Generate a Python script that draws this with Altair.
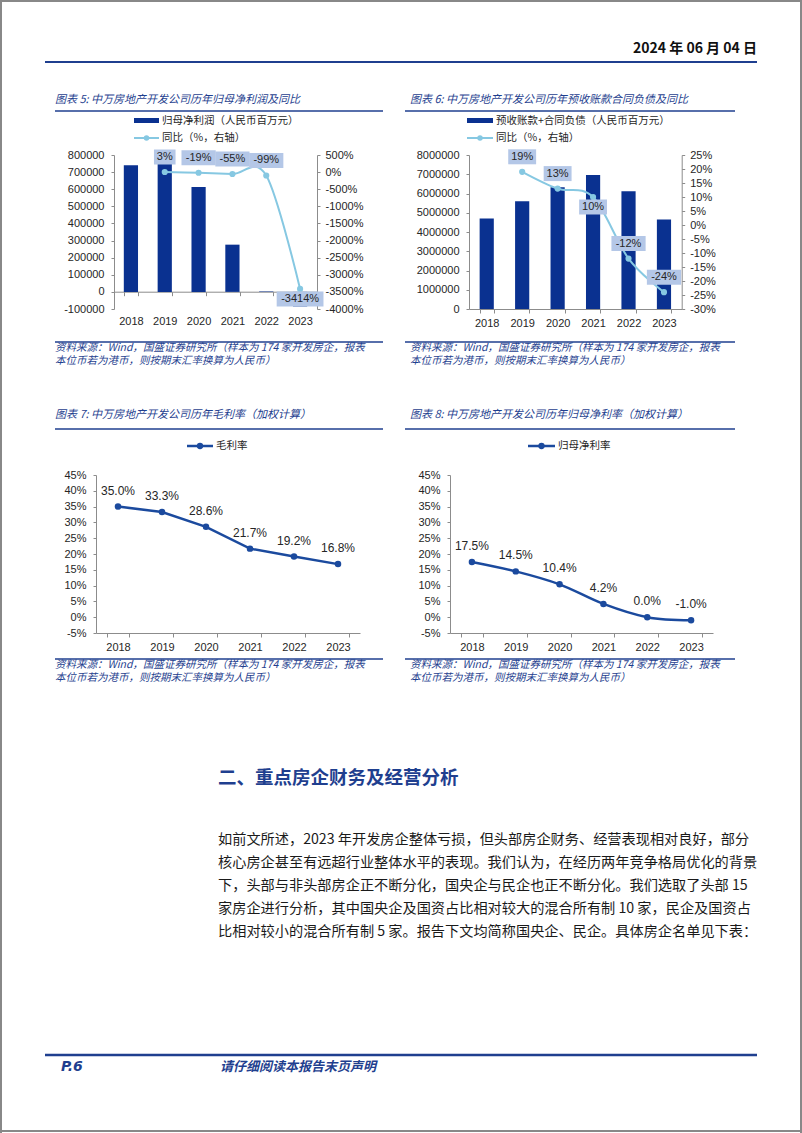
import altair as alt
import pandas as pd

W, H = 802, 1133

# ---------------- data ----------------
years = ["2018", "2019", "2020", "2021", "2022", "2023"]
yoy_years = ["2019", "2020", "2021", "2022", "2023"]

profit = [740000, 757000, 613000, 276000, 2800, -85000]
profit_yoy = [3, -19, -55, -99, -3414]
profit_yoy_below = ["2023"]

advance = [4700000, 5600000, 6330000, 6960000, 6120000, 4650000]
advance_yoy = [19, 13, 10, -12, -24]
advance_yoy_below = ["2021"]

gross_margin = [35.0, 33.3, 28.6, 21.7, 19.2, 16.8]
net_margin = [17.5, 14.5, 10.4, 4.2, 0.0, -1.0]

ticks5_left = [-100000, 0, 100000, 200000, 300000, 400000, 500000, 600000, 700000, 800000]
ticks5_right = [-4000, -3500, -3000, -2500, -2000, -1500, -1000, -500, 0, 500]
ticks6_left = [0, 1000000, 2000000, 3000000, 4000000, 5000000, 6000000, 7000000, 8000000]
ticks6_right = [-30, -25, -20, -15, -10, -5, 0, 5, 10, 15, 20, 25]
ticks_margin = [-5, 0, 5, 10, 15, 20, 25, 30, 35, 40, 45]

titles = [
    "图表 5:  中万房地产开发公司历年归母净利润及同比",
    "图表 6:  中万房地产开发公司历年预收账款合同负债及同比",
    "图表 7:  中万房地产开发公司历年毛利率（加权计算）",
    "图表 8:  中万房地产开发公司历年归母净利率（加权计算）",
]
legend5 = ["归母净利润（人民币百万元）", "同比（%，右轴）"]
legend6 = ["预收账款+合同负债（人民币百万元）", "同比（%，右轴）"]
legend7 = "毛利率"
legend8 = "归母净利率"
source_lines = [
    "资料来源：Wind，国盛证券研究所（样本为 174 家开发房企，报表",
    "本位币若为港币，则按期末汇率换算为人民币）",
]
date_text = "2024 年 06 月 04 日"
heading = "二、重点房企财务及经营分析"
paragraph = [
    "如前文所述，2023 年开发房企整体亏损，但头部房企财务、经营表现相对良好，部分",
    "核心房企甚至有远超行业整体水平的表现。我们认为，在经历两年竞争格局优化的背景",
    "下，头部与非头部房企正不断分化，国央企与民企也正不断分化。我们选取了头部 15",
    "家房企进行分析，其中国央企及国资占比相对较大的混合所有制 10 家，民企及国资占",
    "比相对较小的混合所有制 5 家。报告下文均简称国央企、民企。具体房企名单见下表：",
]
footer_page = "P.6"
footer_note = "请仔细阅读本报告末页声明"

# ---------------- styles ----------------
BAR = "#0a3190"
LB = "#86c8e2"
BOX = "#b4c7e7"
NAVY = "#1f3f8f"
LINE78 = "#1b4a9e"
AXIS = "#8c8c8c"
TXT = "#262626"
CJK = "Noto Sans CJK SC"
LAT = "Liberation Sans"

one = pd.DataFrame({"k": [0]})
layers = []


def rule(x1, y1, x2, y2, color, w):
    layers.append(alt.Chart(one).mark_rule(color=color, strokeWidth=w).encode(
        x=alt.value(x1), y=alt.value(y1), x2=alt.value(x2), y2=alt.value(y2)))


def rect(x1, y1, x2, y2, color):
    layers.append(alt.Chart(one).mark_rect(color=color).encode(
        x=alt.value(x1), y=alt.value(y1), x2=alt.value(x2), y2=alt.value(y2)))


def dot(x, y, color, size):
    layers.append(alt.Chart(one).mark_circle(color=color, size=size, opacity=1).encode(
        x=alt.value(x), y=alt.value(y)))


def text(s, x, y, size, color=TXT, font=CJK, align="left", weight="normal", style="normal"):
    layers.append(alt.Chart(one).mark_text(
        align=align, baseline="middle", fontSize=size, color=color, font=font,
        fontWeight=weight, fontStyle=style).encode(
        x=alt.value(x), y=alt.value(y), text=alt.value(s)))


# ---------------- page decoration ----------------
rule(0, 1, W, 1, "#888888", 2)
rule(1, 0, 1, H, "#888888", 2)
rule(W - 1, 0, W - 1, H, "#888888", 2)
rule(0, 1131, W, 1131, "#888888", 2)
text(date_text, 757, 49, 14, color="#111111", font=CJK, align="right", weight="bold")
rule(45, 62, 757, 62, NAVY, 2)

# chart frames
for (x1, x2, xt) in [(55, 383, 55), (405, 735, 410)]:
    rule(x1, 111, x2, 111, NAVY, 1.5)
    rule(x1, 342, x2, 342, NAVY, 1.5)
    rule(x1, 429, x2, 429, NAVY, 1.5)
    rule(x1, 659, x2, 659, NAVY, 1.5)
    for yy, ln in [(348, 0), (361, 1), (665, 0), (678, 1)]:
        text(source_lines[ln], xt, yy, 10.5, color=NAVY, style="italic")

text(titles[0], 55, 100, 11, color=NAVY, style="italic")
text(titles[1], 410, 100, 11, color=NAVY, style="italic")
text(titles[2], 55, 415, 11, color=NAVY, style="italic")
text(titles[3], 410, 415, 11, color=NAVY, style="italic")

# legends
rect(134, 118, 159, 123, BAR)
text(legend5[0], 162, 120.5, 10.5)
rule(134, 138, 159, 138, LB, 2)
dot(146.5, 138, LB, 30)
text(legend5[1], 162, 138, 10.5)

rect(467, 118, 493, 123, BAR)
text(legend6[0], 496, 120.5, 10.5)
rule(467, 138, 493, 138, LB, 2)
dot(480, 138, LB, 30)
text(legend6[1], 496, 138, 10.5)

rule(187, 446, 213, 446, LINE78, 2.5)
dot(200, 446, LINE78, 40)
text(legend7, 216, 446, 10.5)

rule(528, 446, 555, 446, LINE78, 2.5)
dot(541.5, 446, LINE78, 40)
text(legend8, 558, 446, 10.5)

# heading, paragraph, footer
text(heading, 218, 778, 18.5, color=NAVY, weight="bold")
for i, line in enumerate(paragraph):
    text(line, 218, 840 + i * 23, 14.2, color="#1a1a1a")
rule(45, 1055, 757, 1055, NAVY, 2.5)
text(footer_page, 61, 1067, 14, color=NAVY, font="DejaVu Sans", weight="bold", style="italic")
text(footer_note, 220, 1067, 13, color=NAVY, weight="bold", style="italic")


# ---------------- bar + yoy charts ----------------
def bar_yoy(vals, yoy, below, xr, pin, xaxis_y, lpad, yl_dom, yl_ticks, yr_dom, yr_ticks):
    ytop, ybot = 155, 309
    xs = alt.Scale(domain=years, range=list(xr), paddingInner=pin, paddingOuter=pin / 2)
    ysl = alt.Scale(domain=yl_dom, range=[ybot, ytop], nice=False)
    ysr = alt.Scale(domain=yr_dom, range=[ybot, ytop], nice=False)
    dfb = pd.DataFrame({"year": years, "v": vals})
    dfl = pd.DataFrame({"year": yoy_years, "v": yoy})
    dfl["below"] = dfl["year"].isin(below)

    xnone = alt.X("year:N", scale=xs, axis=None, title=None)
    yr_none = alt.Y("v:Q", scale=ysr, axis=None, title=None)

    bars = alt.Chart(dfb).mark_bar(color=BAR).encode(
        x=alt.X("year:N", scale=xs, title=None,
                axis=alt.Axis(orient="bottom", offset=xaxis_y - H, tickBand="extent",
                              tickSize=4, labelPadding=lpad, labelAngle=0)),
        y=alt.Y("v:Q", scale=ysl, title=None,
                axis=alt.Axis(orient="left", offset=-xr[0], values=yl_ticks,
                              labelExpr="'' + datum.value", tickSize=3, labelPadding=7)),
    )
    line = alt.Chart(dfl).mark_line(color=LB, strokeWidth=2, interpolate="cardinal").encode(
        x=xnone,
        y=alt.Y("v:Q", scale=ysr, title=None,
                axis=alt.Axis(orient="right", offset=xr[1] - W, values=yr_ticks,
                              labelExpr="datum.value + '%'", tickSize=3, labelPadding=5)),
    )
    pts = alt.Chart(dfl).mark_circle(color=LB, size=38, opacity=1).encode(x=xnone, y=yr_none)
    out = [bars, line, pts]
    for flag, off in [(False, -15), (True, 10)]:
        base = alt.Chart(dfl).transform_filter(
            "datum.below" if flag else "!datum.below"
        ).transform_calculate(
            lbl="datum.v + '%'", w="length(datum.v + '%') * 6.3 + 9"
        )
        box = base.mark_tick(color=BOX, thickness=15, yOffset=off, opacity=1,
                             orient="horizontal").encode(
            x=xnone, y=yr_none, size=alt.Size("w:Q", scale=None, legend=None))
        lab = base.mark_text(font=LAT, fontSize=11, color=TXT, dy=off,
                             baseline="middle").encode(x=xnone, y=yr_none, text="lbl:N")
        out += [box, lab]
    return out


layers += bar_yoy(profit, profit_yoy, profit_yoy_below, (114, 317), 0.58, 291.7, 20,
                  [-100000, 800000], ticks5_left, [-4000, 500], ticks5_right)
layers += bar_yoy(advance, advance_yoy, advance_yoy_below, (469, 681.7), 0.6, 309, 4,
                  [0, 8000000], ticks6_left, [-30, 25], ticks6_right)


# ---------------- margin line charts ----------------
def margin_chart(vals, xr, interp):
    xs = alt.Scale(domain=years, range=list(xr), paddingInner=0.5, paddingOuter=0.25)
    ys = alt.Scale(domain=[-5, 45], range=[633, 475], nice=False)
    df = pd.DataFrame({"year": years, "v": vals})
    xnone = alt.X("year:N", scale=xs, axis=None, title=None)
    ynone = alt.Y("v:Q", scale=ys, axis=None, title=None)
    line = alt.Chart(df).mark_line(color=LINE78, strokeWidth=2.5, interpolate=interp).encode(
        x=alt.X("year:N", scale=xs, title=None,
                axis=alt.Axis(orient="bottom", offset=633 - H, tickBand="extent",
                              tickSize=4, labelPadding=4, labelAngle=0)),
        y=alt.Y("v:Q", scale=ys, title=None,
                axis=alt.Axis(orient="left", offset=-xr[0], values=ticks_margin,
                              labelExpr="datum.value + '%'", tickSize=3, labelPadding=7)),
    )
    pts = alt.Chart(df).mark_circle(color=LINE78, size=42, opacity=1).encode(x=xnone, y=ynone)
    lab = alt.Chart(df).transform_calculate(
        lbl="(datum.v < 0 ? '-' : '') + format(abs(datum.v), '.1f') + '%'"
    ).mark_text(font=LAT, fontSize=12, color=TXT, dy=-16, baseline="middle").encode(
        x=xnone, y=ynone, text="lbl:N")
    return [line, pts, lab]


layers += margin_chart(gross_margin, (96, 360), "linear")
layers += margin_chart(net_margin, (450, 713), "cardinal")

chart = alt.layer(*layers).resolve_scale(
    x="independent", y="independent", size="independent"
).properties(
    width=W, height=H, autosize=alt.AutoSizeParams(type="none"), padding=0,
    background="white",
).configure_view(stroke=None).configure_axis(
    grid=False, labelFont=LAT, labelFontSize=11, labelColor=TXT,
    domainColor=AXIS, tickColor=AXIS, domainWidth=1,
)

chart.save("out.html", embed_options={"renderer": "svg", "actions": False})
